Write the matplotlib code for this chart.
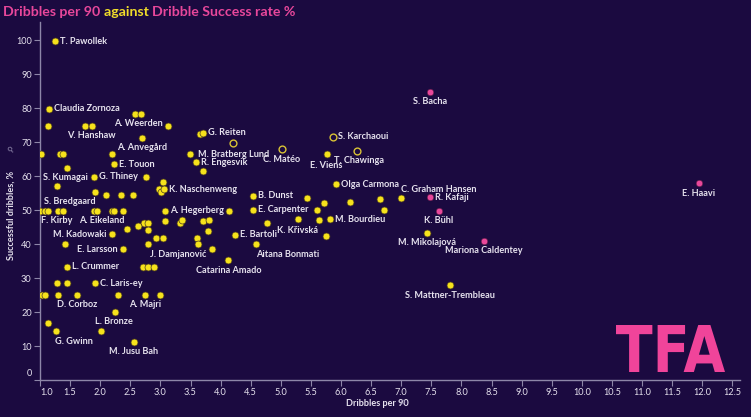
import matplotlib
matplotlib.use("Agg")
import matplotlib.pyplot as plt
from matplotlib.textpath import TextPath
from matplotlib.patches import PathPatch
from matplotlib.font_manager import FontProperties
from matplotlib.transforms import Affine2D, ScaledTranslation

# ---------------- data ----------------
yellow_names = [
    "T. Pawollek", "Claudia Zornoza", "", "", "V. Hanshaw", "", "A. Weerden", "",
    "A. Anvegård", "", "G. Reiten", "", "", "", "", "M. Bratberg Lund",
    "E. Touon", "R. Engesvik", "", "", "G. Thiney", "S. Kumagai", "", "",
    "", "", "K. Naschenweng", "", "", "", "", "",
    "F. Kirby", "S. Bredgaard", "", "", "", "A. Eikeland", "", "",
    "", "A. Hegerberg", "", "E. Carpenter", "", "", "B. Dunst", "",
    "", "", "", "C. Graham Hansen", "Olga Carmona", "E. Viens", "", "",
    "", "", "", "", "", "", "", "",
    "", "E. Bartoli", "M. Kadowaki", "", "", "", "", "",
    "", "J. Damjanović", "E. Larsson", "Catarina Amado", "L. Crummer", "", "", "",
    "", "", "C. Laris-ey", "", "", "", "D. Corboz", "",
    "A. Majri", "", "L. Bronze", "", "G. Gwinn", "", "M. Jusu Bah", "",
    "", "", "M. Bourdieu", "K. Křivská", "Aitana Bonmati", "M. Mikolajová", "S. Mattner-Trembleau",
]
yellow_x = [
    1.25, 1.15, 1.14, 1.75, 1.86, 2.57, 2.68, 3.13,
    2.69, 3.66, 3.70, 1.01, 1.33, 1.39, 2.20, 3.49,
    2.23, 3.59, 3.70, 1.45, 1.90, 1.28, 2.76, 3.05,
    2.97, 3.01, 3.06, 1.91, 2.10, 2.34, 2.55, 1.00,
    1.08, 1.14, 1.30, 1.38, 1.89, 1.94, 2.19, 2.23,
    2.38, 3.08, 4.14, 4.54, 5.60, 6.72, 4.54, 5.43,
    5.72, 6.15, 6.65, 7.00, 5.92, 5.77, 3.08, 3.33,
    3.36, 3.71, 3.80, 2.72, 2.80, 2.63, 2.79, 2.45,
    3.79, 4.24, 2.19, 1.42, 2.93, 3.04, 3.60, 3.62,
    2.79, 3.85, 2.38, 4.13, 1.45, 2.71, 2.79, 2.89,
    1.29, 1.45, 1.91, 1.03, 1.08, 1.30, 1.61, 2.29,
    2.74, 2.99, 2.25, 1.14, 1.27, 2.01, 2.56, 4.77,
    5.29, 5.63, 5.81, 5.75, 4.59, 7.43, 7.81,
]
yellow_y = [
    99.7, 79.8, 74.9, 74.9, 74.9, 78.3, 78.3, 74.9,
    71.3, 72.3, 72.8, 66.5, 66.5, 66.5, 66.5, 66.5,
    63.6, 64.1, 61.5, 62.5, 59.9, 57.1, 59.9, 58.2,
    56.2, 55.4, 56.2, 55.4, 54.5, 54.5, 54.5, 49.9,
    49.9, 49.9, 49.9, 49.9, 49.9, 49.9, 49.9, 49.9,
    49.9, 49.9, 49.9, 50.1, 50.0, 50.0, 54.2, 53.5,
    52.1, 52.5, 53.2, 53.5, 57.7, 66.5, 46.7, 46.1,
    47.0, 46.7, 47.1, 46.1, 46.1, 45.4, 44.3, 44.4,
    43.9, 42.8, 42.9, 40.0, 41.7, 41.7, 41.7, 40.0,
    40.0, 38.5, 38.5, 35.3, 33.4, 33.4, 33.4, 33.4,
    28.5, 28.5, 28.5, 25.1, 25.1, 25.1, 25.1, 25.1,
    25.1, 25.1, 20.1, 16.7, 14.4, 14.4, 11.3, 46.1,
    47.5, 47.1, 47.3, 42.4, 40.0, 43.3, 27.9,
]

hollow_names = ["", "C. Matéo", "S. Karchaoui", "T. Chawinga"]
hollow_x = [4.20, 5.02, 5.86, 6.27]
hollow_y = [69.9, 67.9, 71.6, 67.4]

pink_names = ["S. Bacha", "R. Kafaji", "K. Bühl", "Mariona Caldentey", "E. Haavi"]
pink_x = [7.48, 7.48, 7.62, 8.38, 11.94]
pink_y = [84.9, 53.8, 49.9, 41.0, 57.9]

y_ticks = [0, 10, 20, 30, 40, 50, 60, 70, 80, 90, 100]
x_ticks = [1.0, 1.5, 2.0, 2.5, 3.0, 3.5, 4.0, 4.5, 5.0, 5.5, 6.0, 6.5,
           7.0, 7.5, 8.0, 8.5, 9.0, 9.5, 10.0, 10.5, 11.0, 11.5, 12.0, 12.5]

# ---------------- layout (label offsets in pixels: dx, dy, ha) ----------------
R = (5, 0, "left")
label_pos = {
    "T. Pawollek": R, "Claudia Zornoza": R, "G. Reiten": R,
    "M. Bratberg Lund": (8, 0, "left"), "E. Touon": R, "R. Engesvik": R,
    "G. Thiney": R, "K. Naschenweng": R, "A. Hegerberg": R, "L. Crummer": R,
    "C. Laris-ey": R, "B. Dunst": R, "E. Carpenter": R, "E. Bartoli": R,
    "M. Bourdieu": R, "Olga Carmona": R, "S. Karchaoui": R, "R. Kafaji": R,
    "V. Hanshaw": (0, -10, "center"), "A. Weerden": (-3, -9, "center"),
    "A. Anvegård": (0, -10, "center"), "S. Kumagai": (9, 9, "center"),
    "S. Bredgaard": (21, 9, "center"), "F. Kirby": (12, -10, "center"),
    "A. Eikeland": (5, -10, "center"), "M. Kadowaki": (-5, 0, "right"),
    "E. Larsson": (-5, 0, "right"), "J. Damjanović": (-5, -5, "right"),
    "Catarina Amado": (0, -10, "center"), "D. Corboz": (0, -10, "center"),
    "A. Majri": (0, -10, "center"), "L. Bronze": (-1, -10, "center"),
    "G. Gwinn": (18, -10, "center"), "M. Jusu Bah": (0, -10, "center"),
    "Aitana Bonmati": (0, -10, "left"), "K. Křivská": (-8, 6, "right"),
    "C. Graham Hansen": (0, 9, "left"), "E. Viens": (-1, -11, "center"),
    "T. Chawinga": (2, -9, "center"), "C. Matéo": (0, -10, "center"),
    "S. Bacha": (0, -10, "center"), "K. Bühl": (0, -10, "center"),
    "M. Mikolajová": (0, -10, "center"), "Mariona Caldentey": (0, -10, "center"),
    "S. Mattner-Trembleau": (0, -10, "center"), "E. Haavi": (0, -10, "center"),
}

BG = "#1b0a40"
YEL = "#f6e21c"
PINK = "#e8479b"
AXC = "#8d86a8"
TXT = "#e6e2ee"
FONT = ["Lato", "DejaVu Sans"]

plt.rcParams["font.family"] = FONT

W, H = 751, 417
fig = plt.figure(figsize=(W / 100, H / 100), dpi=100, facecolor=BG)
ax = fig.add_axes([40 / W, 37 / H, 700 / W, 358 / H], facecolor=BG)
ax.set_xlim(1.0, 1 + 700 / 60.2)
ax.set_ylim(0, 358 / 3.396)

ax.scatter(yellow_x, yellow_y, s=25, color=YEL, edgecolor="#4a3a20", linewidth=0.5, zorder=3)
ax.scatter(hollow_x, hollow_y, s=24, facecolor=BG, edgecolor="#d8c235", linewidth=1.0, zorder=3)
ax.scatter(pink_x, pink_y, s=22, color=PINK, edgecolor="#5a1a45", linewidth=0.4, zorder=3)

for names, xs, ys in ((yellow_names, yellow_x, yellow_y),
                      (hollow_names, hollow_x, hollow_y),
                      (pink_names, pink_x, pink_y)):
    for n, x, y in zip(names, xs, ys):
        if not n:
            continue
        dx, dy, ha = label_pos.get(n, R)
        ax.annotate(n, xy=(x, y), xytext=(dx, dy), textcoords="offset pixels",
                    ha=ha, va="center", fontsize=6.6, color=TXT, fontweight="bold",
                    zorder=4)

for s in ("top", "right"):
    ax.spines[s].set_visible(False)
for s in ("left", "bottom"):
    ax.spines[s].set_color(AXC)
    ax.spines[s].set_linewidth(1.0)

ax.set_yticks(y_ticks)
ax.set_xticks(x_ticks)
ax.set_xticklabels([f"{v:.1f}" for v in x_ticks])
ax.tick_params(axis="both", colors=AXC, labelcolor=TXT, labelsize=6.6, length=4, width=0.8)
ax.tick_params(axis="x", pad=2)
ax.tick_params(axis="y", pad=2)

# shift first tick labels like the reference
fig.canvas.draw()
xl = ax.get_xticklabels()[0]
xl.set_transform(xl.get_transform() + ScaledTranslation(7 / 100, 0, fig.dpi_scale_trans))
yl = ax.get_yticklabels()[0]
yl.set_transform(yl.get_transform() + ScaledTranslation(0, 7 / 100, fig.dpi_scale_trans))

# axis titles
fig.text(377 / W, 1 - 403 / H, "Dribbles per 90", ha="center", va="center",
         fontsize=6.6, color=TXT, fontweight="bold")
fig.text(401 / W, 1 - 403 / H, "⚲", ha="center", va="center", fontsize=5.5,
         color="#9a93b5", family="DejaVu Sans", rotation=-45)
fig.text(11 / W, 1 - 215 / H, "Successful dribbles, %", ha="center", va="center",
         rotation=90, fontsize=6.6, color=TXT, fontweight="bold")
fig.text(11 / W, 1 - 150 / H, "⚲", ha="center", va="center", fontsize=5.5,
         color="#9a93b5", family="DejaVu Sans", rotation=45)

# title
tparts = [("Dribbles per 90 ", PINK), ("against ", "#f0dc2a"), ("Dribble Success rate %", PINK)]
x0 = 3
renderer = fig.canvas.get_renderer()
for txt, col in tparts:
    t = fig.text(x0 / W, 1 - 12 / H, txt, ha="left", va="center", fontsize=10.2,
                 color=col, fontweight="bold")
    bb = t.get_window_extent(renderer=renderer)
    x0 += bb.width

# TFA logo
fp = FontProperties(family="DejaVu Sans", weight="bold")
tp = TextPath((0, 0), "TFA", size=100, prop=fp)
ext = tp.get_extents()
tx0, ty0, tx1, ty1 = 616, H - 372, 725, H - 325
sx = (tx1 - tx0) / ext.width
sy = (ty1 - ty0) / ext.height
tr = Affine2D().translate(-ext.x0, -ext.y0).scale(sx, sy).translate(tx0, ty0)
path = tr.transform_path(tp)
patch = PathPatch(path, facecolor="#f0449a", edgecolor="none", transform=None, zorder=5)
fig.patches.append(patch)

fig.savefig("out.png", dpi=100, facecolor=BG)
